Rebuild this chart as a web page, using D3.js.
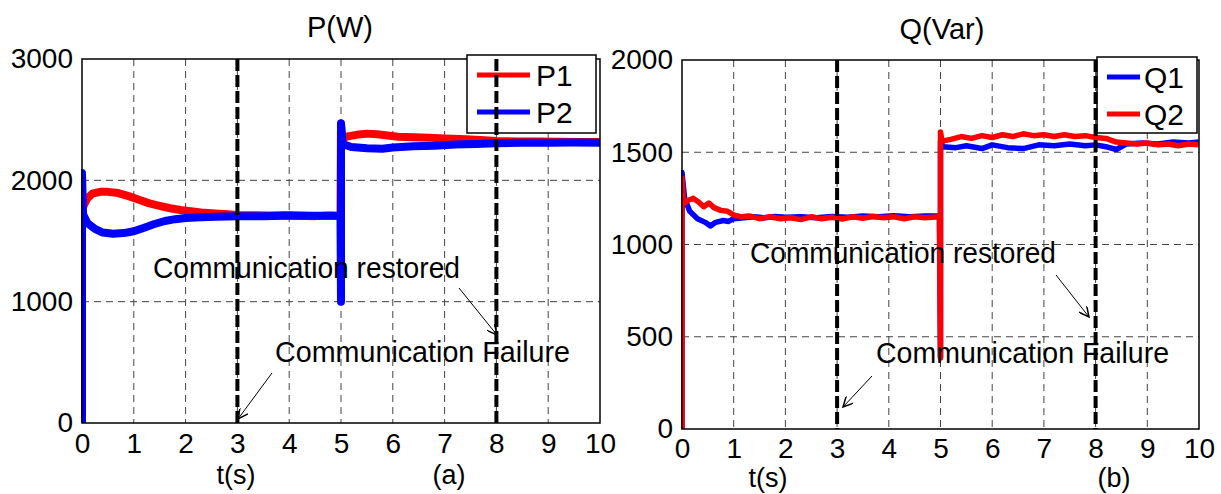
<!DOCTYPE html>
<html lang="en">
<head>
<meta charset="UTF-8">
<title>P(W) and Q(Var)</title>
<script src="https://d3js.org/d3.v7.min.js"></script>
<style>
    body { margin: 0; background: #fff; }
    svg text { font-family: "Liberation Sans", Arial, sans-serif; fill: #000; }
</style>
</head>
<body>
<div id="chart"></div>
<script>
// ---- data ----
var xTicks = [0, 1, 2, 3, 4, 5, 6, 7, 8, 9, 10];
var pTicks = [0, 1000, 2000, 3000];
var qTicks = [0, 500, 1000, 1500, 2000];
var eventTimes = [3, 8];

// P1 (red)
var p1Time = [0, 0, 0.02, 0.1, 0.2, 0.35, 0.5, 0.7, 0.9, 1.1, 1.3, 1.5, 1.7, 1.9, 2.1, 2.3, 2.5, 2.8, 3.0, 3.3, 3.6, 3.9, 4.2, 4.5, 4.8, 4.99,
              5.0, 5.02, 5.1, 5.3, 5.5, 5.7, 5.9, 6.1, 6.4, 6.7, 7.0, 7.3, 7.6, 8.0, 8.4, 8.8, 9.2, 9.6, 10];
var p1Value = [0, 1700, 1780, 1850, 1890, 1905, 1905, 1895, 1870, 1840, 1810, 1790, 1770, 1755, 1745, 1735, 1728, 1720, 1715, 1712, 1710, 1712, 1708, 1705, 1710, 1705,
               2460, 2330, 2360, 2375, 2385, 2380, 2370, 2360, 2355, 2350, 2345, 2340, 2335, 2325, 2320, 2320, 2318, 2315, 2315];
// P2 (blue)
var p2Time = [0, 0, 0.02, 0.1, 0.25, 0.4, 0.6, 0.8, 1.0, 1.2, 1.4, 1.6, 1.8, 2.0, 2.3, 2.6, 3.0, 3.5, 4.0, 4.5, 4.99,
              5.0, 5.0, 5.03, 5.2, 5.5, 5.8, 6.0, 6.4, 6.8, 7.2, 7.6, 8.0, 8.5, 9.0, 9.5, 10];
var p2Value = [0, 2060, 1720, 1650, 1600, 1570, 1560, 1565, 1580, 1610, 1640, 1665, 1680, 1690, 1695, 1700, 1705, 1705, 1710, 1708, 1710,
               1000, 2470, 2300, 2275, 2265, 2260, 2270, 2280, 2285, 2295, 2300, 2305, 2310, 2310, 2312, 2310];

// Q1 (blue)
var q1Time = [0, 0, 0.05, 0.15, 0.3, 0.45, 0.55, 0.65, 0.8, 0.9, 1.0, 1.2, 1.4, 1.6, 1.8, 2.0, 2.3, 2.6, 2.9, 3.2, 3.5, 3.8, 4.1, 4.4, 4.7, 4.98,
              5.0, 5.0, 5.05, 5.3, 5.5, 5.8, 6.0, 6.3, 6.6, 6.9, 7.2, 7.5, 7.8, 8.0, 8.2, 8.4, 8.6, 8.9, 9.2, 9.5, 9.8, 10];
var q1Value = [0, 1390, 1250, 1180, 1140, 1120, 1100, 1120, 1130, 1125, 1140, 1145, 1150, 1145, 1152, 1148, 1150, 1145, 1152, 1148, 1155, 1150, 1156, 1150, 1155, 1155,
               390, 1560, 1530, 1525, 1535, 1520, 1540, 1525, 1520, 1540, 1535, 1545, 1535, 1540, 1530, 1515, 1545, 1550, 1545, 1555, 1550, 1555];
// Q2 (red)
var q2Time = [0, 0, 0.03, 0.12, 0.22, 0.32, 0.42, 0.52, 0.62, 0.75, 0.88, 1.0, 1.15, 1.3, 1.5, 1.7, 1.9, 2.1, 2.3, 2.5, 2.7, 2.9, 3.1, 3.3, 3.5, 3.7, 3.9, 4.1, 4.3, 4.5, 4.7, 4.98,
              5.0, 5.0, 5.03, 5.2, 5.4, 5.6, 5.8, 6.0, 6.2, 6.4, 6.6, 6.8, 7.0, 7.2, 7.4, 7.6, 7.8, 8.0, 8.2, 8.4, 8.6, 8.8, 9.0, 9.2, 9.4, 9.6, 9.8, 10];
var q2Value = [0, 1360, 1220, 1240, 1250, 1230, 1205, 1225, 1200, 1185, 1180, 1160, 1150, 1155, 1140, 1150, 1140, 1145, 1135, 1150, 1140, 1148, 1138, 1150, 1142, 1152, 1145, 1150, 1140, 1150, 1145, 1150,
               385, 1610, 1560, 1570, 1585, 1575, 1590, 1580, 1595, 1585, 1600, 1590, 1595, 1585, 1595, 1585, 1590, 1580, 1575, 1555, 1550, 1545, 1550, 1540, 1545, 1535, 1545, 1540];

function zip(t, v) { return t.map(function(d, i) { return [d, v[i]]; }); }

var svg = d3.select("#chart").append("svg")
    .attr("width", 1221).attr("height", 494);

var panels = [
    {
        id: "a", title: "P(W)", titleX: 340, titleY: 37,
        left: 82, right: 600, top: 59, bottom: 423,
        yMax: 3000, yTicks: pTicks, xPad: 10,
        series: [
            { name: "P1", color: "#ff0000", data: zip(p1Time, p1Value), width: 8 },
            { name: "P2", color: "#0000ff", data: zip(p2Time, p2Value), width: 8 }
        ],
        legend: { x: 467, y: 55, w: 129, h: 78 },
        tsX: 236, tsY: 484, labX: 449, labY: 484, label: "(a)",
        notes: [
            { text: "Communication restored", x: 153, y: 278, len: 307,
              arrow: [459, 288, 497, 335] },
            { text: "Communication Failure", x: 275, y: 362, len: 295,
              arrow: [272, 373, 238, 419] }
        ]
    },
    {
        id: "b", title: "Q(Var)", titleX: 942, titleY: 39,
        left: 682, right: 1199, top: 60, bottom: 429,
        yMax: 2000, yTicks: qTicks, xPad: 9,
        series: [
            { name: "Q1", color: "#0000ff", data: zip(q1Time, q1Value), width: 5.5 },
            { name: "Q2", color: "#ff0000", data: zip(q2Time, q2Value), width: 5.5 }
        ],
        legend: { x: 1097, y: 57, w: 100, h: 76 },
        tsX: 768, tsY: 487, labX: 1114, labY: 487, label: "(b)",
        notes: [
            { text: "Communication restored", x: 750, y: 263, len: 306,
              arrow: [1056, 275, 1089, 317] },
            { text: "Communication Failure", x: 876, y: 363, len: 293,
              arrow: [872, 376, 843, 407] }
        ]
    }
];

// arrow head
svg.append("defs").append("marker")
    .attr("id", "arrowHead")
    .attr("viewBox", "0 0 10 10")
    .attr("refX", 10).attr("refY", 5)
    .attr("markerWidth", 14).attr("markerHeight", 10)
    .attr("markerUnits", "userSpaceOnUse")
    .attr("orient", "auto")
    .append("path")
    .attr("d", "M0,0 L10,5 L0,10")
    .attr("fill", "none")
    .attr("stroke", "#000")
    .attr("stroke-width", 1.5);

panels.forEach(drawPanel);

function drawPanel(p) {
    var x = d3.scaleLinear().domain([0, 10]).range([p.left, p.right]);
    var y = d3.scaleLinear().domain([0, p.yMax]).range([p.bottom, p.top]);
    var g = svg.append("g");

    g.append("clipPath").attr("id", "clip" + p.id)
        .append("rect")
        .attr("x", p.left - 1).attr("y", p.top)
        .attr("width", p.right - p.left + 1).attr("height", p.bottom - p.top);

    // grid
    g.selectAll(".vgrid").data(xTicks.slice(1, -1)).enter().append("line")
        .attr("x1", function(d) { return x(d); }).attr("x2", function(d) { return x(d); })
        .attr("y1", p.top).attr("y2", p.bottom)
        .attr("stroke", "#444").attr("stroke-width", 1)
        .attr("stroke-dasharray", "7,5");
    g.selectAll(".hgrid").data(p.yTicks.slice(1, -1)).enter().append("line")
        .attr("x1", p.left).attr("x2", p.right)
        .attr("y1", function(d) { return y(d); }).attr("y2", function(d) { return y(d); })
        .attr("stroke", "#444").attr("stroke-width", 1)
        .attr("stroke-dasharray", "7,5");

    // curves
    var line = d3.line().x(function(d) { return x(d[0]); }).y(function(d) { return y(d[1]); });
    p.series.forEach(function(s) {
        g.append("path")
            .datum(s.data)
            .attr("clip-path", "url(#clip" + p.id + ")")
            .attr("d", line)
            .attr("fill", "none")
            .attr("stroke", s.color)
            .attr("stroke-width", s.width)
            .attr("stroke-linejoin", "round");
    });

    // frame
    g.append("rect")
        .attr("x", p.left).attr("y", p.top)
        .attr("width", p.right - p.left).attr("height", p.bottom - p.top)
        .attr("fill", "none").attr("stroke", "#000").attr("stroke-width", 1.5);

    // axes
    var xAxis = g.append("g")
        .attr("transform", "translate(0," + p.bottom + ")")
        .call(d3.axisBottom(x).tickValues(xTicks).tickSize(0).tickPadding(p.xPad).tickFormat(d3.format("d")));
    var yAxis = g.append("g")
        .attr("transform", "translate(" + p.left + ",0)")
        .call(d3.axisLeft(y).tickValues(p.yTicks).tickSize(0).tickPadding(9).tickFormat(d3.format("d")));
    [xAxis, yAxis].forEach(function(a) {
        a.select(".domain").remove();
        a.selectAll("text").style("font-size", "28px").attr("fill", "#000");
    });

    // legend
    var lg = p.legend;
    var leg = g.append("g");
    leg.append("rect")
        .attr("x", lg.x).attr("y", lg.y).attr("width", lg.w).attr("height", lg.h)
        .attr("fill", "#fff").attr("stroke", "#000").attr("stroke-width", 1.5);
    p.series.forEach(function(s, i) {
        var ly = lg.y + 20 + i * 37;
        leg.append("line")
            .attr("x1", lg.x + 10).attr("x2", lg.x + (p.id === "a" ? 63 : 43))
            .attr("y1", ly).attr("y2", ly)
            .attr("stroke", s.color).attr("stroke-width", 5);
        leg.append("text")
            .attr("x", lg.x + (p.id === "a" ? 69 : 47)).attr("y", ly + 11)
            .style("font-size", "30px")
            .text(s.name);
    });

    // event lines
    g.selectAll(".event").data(eventTimes).enter().append("line")
        .attr("x1", function(d) { return x(d); }).attr("x2", function(d) { return x(d); })
        .attr("y1", p.top).attr("y2", p.bottom)
        .attr("stroke", "#000").attr("stroke-width", 4)
        .attr("stroke-dasharray", "12,4");

    // title + labels
    g.append("text").attr("x", p.titleX).attr("y", p.titleY)
        .attr("text-anchor", "middle").style("font-size", "29px").text(p.title);
    g.append("text").attr("x", p.tsX).attr("y", p.tsY)
        .attr("text-anchor", "middle").style("font-size", "27px").text("t(s)");
    g.append("text").attr("x", p.labX).attr("y", p.labY)
        .attr("text-anchor", "middle").style("font-size", "27px").text(p.label);

    // annotations
    p.notes.forEach(function(n) {
        g.append("text").attr("x", n.x).attr("y", n.y)
            .attr("textLength", n.len).attr("lengthAdjust", "spacingAndGlyphs")
            .style("font-size", "30px").text(n.text);
        g.append("line")
            .attr("x1", n.arrow[0]).attr("y1", n.arrow[1])
            .attr("x2", n.arrow[2]).attr("y2", n.arrow[3])
            .attr("stroke", "#000").attr("stroke-width", 1)
            .attr("marker-end", "url(#arrowHead)");
    });
}
</script>
</body>
</html>
